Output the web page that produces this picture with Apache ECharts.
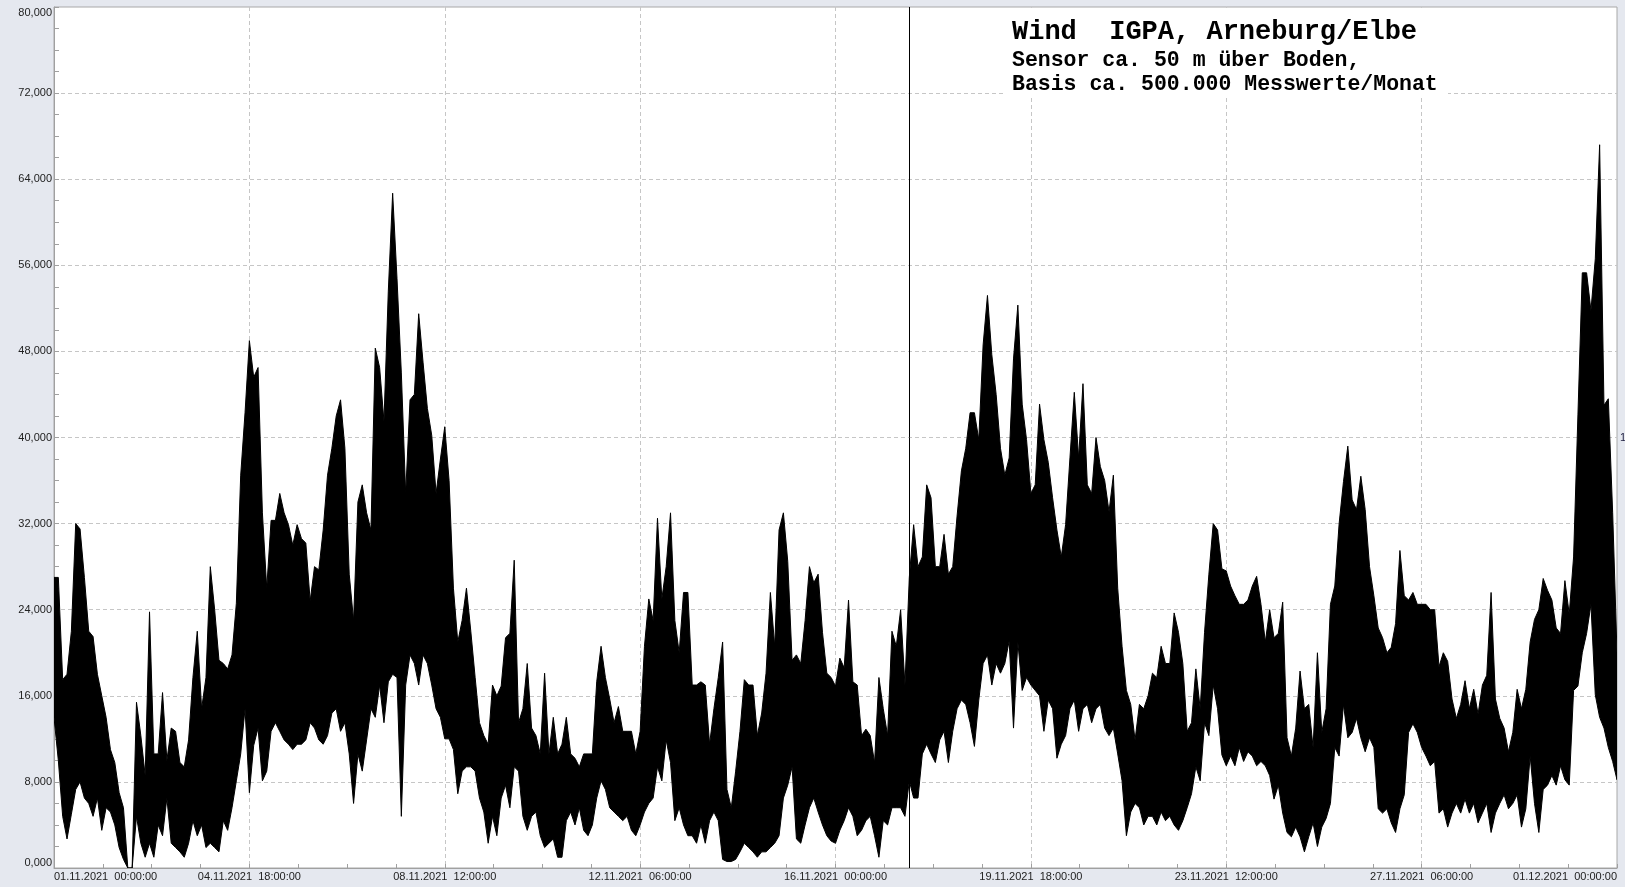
<!DOCTYPE html>
<html>
<head>
<meta charset="utf-8">
<script src="https://cdn.jsdelivr.net/npm/echarts@6/dist/echarts.min.js"></script>
<style>
  html, body { margin: 0; padding: 0; background: #e5e8ef; }
  #chart { width: 1625px; height: 887px; }
</style>
</head>
<body>
<div id="chart"></div>
<script>
// ---- data (hours since 01.11.2021 00:00, one sample every 2 hours) ----
const STEP_HOURS = 2;

// upper envelope of the measurements (value / 1000)
const hi = [
  27,27,17.5,18,22,32,31.5,27,22,21.5,
  18,16,14,11,9.8,7,5.6,0,0,15.4,
  12.3,8.6,23.8,10.6,10.6,16.3,10,13,12.7,9.8,
  9.4,11.9,17.7,22,14.8,17.7,28,24,19.3,19,
  18.5,19.8,24.6,36.5,42.3,49,45.6,46.5,33,26,
  32.3,32.3,34.8,33,31.9,30,31.9,30.6,30.2,24.8,
  28,27.7,31.4,36.5,39,42,43.5,39,27.3,23,
  34,35.6,33,31.4,48.3,46.5,41.5,53.6,62.7,54.8,
  46,34.8,43.5,44,51.5,47,42.7,40.2,34.8,38,
  41,36,26,21,23,26,22,17.7,13.5,12.3,
  11.5,17,16,16.9,21.4,21.8,28.6,13.5,14.8,19,
  13,12.3,10.6,18.1,10.6,14,10.6,11.5,14,10.6,
  10.2,9.4,10.6,10.6,10.6,17.3,20.6,17.7,15.7,13.5,
  15,12.7,12.7,12.7,10.6,12.7,20.6,25,23,32.5,
  25,28,33,23,20,25.6,25.6,17,17,17.3,
  17,11.5,14.8,17.7,21,7.3,5.6,9,12.7,17.5,
  17,17,12.3,14.4,18.1,25.6,20.6,31.4,33,28.5,
  19.3,19.8,19,23,28,26.5,27.3,21.9,18.1,17.7,
  16.9,19.5,18.6,24.9,17.3,17,12.3,12.9,12.3,9.8,
  17.7,14.8,12.3,22,20.6,24,17,27,31.9,28,
  28.9,35.6,34.4,28,28,31,27.3,28,32.7,36.9,
  39,42.3,42.3,39.8,48.6,53.2,47.7,44,39,36.5,
  38.1,47.3,52.3,43.1,39.8,34.8,35.6,43.1,39.8,37.7,
  34.4,31.4,28.9,31.9,38.1,44.2,38.1,45,35.6,34.8,
  40,37.3,36,33.1,36.5,26,20.6,16.5,15.2,11.9,
  15.2,14.8,16,18.1,17.7,20.6,19,19,23.7,21.9,
  19,12.7,13.5,18.5,14.8,21.9,27.3,32,31.4,27.8,
  27.6,26.2,25.3,24.5,24.5,24.9,26.2,27.1,24.5,21,
  24,21.4,21.8,24.7,12.1,10.4,13,18.3,14.8,15.2,
  11.2,20,12.6,14.8,24.5,26.2,32,35.9,39.2,34.2,
  33.3,36.4,33.3,28,25.3,22.3,21.4,20,20.5,22.7,
  29.5,25.3,24.9,25.6,24.5,24.5,24.5,24,24,18.7,
  20,19.2,15.7,13.9,15.2,17.4,14.8,16.6,14.3,17,
  17.9,25.6,15.7,13.9,13,10.8,12.6,16.6,14.8,16.6,
  21,23.1,24,26.9,25.8,24.9,22.3,21.8,26.7,23.6,
  28.9,42.1,55.3,55.3,51.8,56.6,67.2,43,43.6,33,20
];

// lower envelope of the measurements (value / 1000)
const lo = [
  14,10,4.8,2.7,5,7.3,8,6.5,6,4.8,
  6.5,3.5,5.6,5.2,4,1.9,0.8,0,0,4.8,
  2.3,1,2.3,1,4,3,6.5,2.3,1.9,1.5,
  1,2.3,4.4,3,4,1.9,2.3,1.9,1.5,4.4,
  3.5,5.6,8.1,10.6,14.8,7,11.4,13,8.1,9,
  12.7,13.5,12.7,11.9,11.5,11,11.5,11.5,11.9,13.5,
  13,11.9,11.5,12.3,14.4,14.8,12.7,13.5,10.6,6,
  10.6,9,11.9,14.8,14,17,13.5,17.3,18,17.7,
  4.8,17,19.8,19,17,19.8,19,17,14.8,14,
  12,12,11,6.9,9,9.4,9.4,9,6.5,5.2,
  2.3,4.8,3,6.5,7.7,5.6,9.4,9,4.8,3.5,
  4.8,5.2,3,1.9,2.3,2.7,1,1,4.4,5.2,
  4,5.6,3.5,3,4,6.5,8.1,7.3,5.6,5.2,
  4.8,4.4,4.8,3.5,3,4,5.2,6,6.5,9.4,
  8.1,11.9,9.8,4.4,5.6,4,3,3,2.3,4,
  2.3,4.4,5.2,4.4,0.8,0.6,0.6,0.8,1.5,2.3,
  1.9,1.5,1,1.5,1.5,1.9,2.3,3,6.5,7.7,
  9.4,2.7,2.3,4,5.6,6.5,5.2,4,3,2.5,
  2.3,3.5,4.4,5.6,4.8,3,3.5,4.4,4.8,3,
  1,4.4,4,5.6,5.6,5.6,4.8,8.1,6.5,6.5,
  10.6,11.5,10.6,9.8,11.9,12.7,9.8,12.7,14.8,15.6,
  15.2,13.5,11.3,15.6,19,19.8,17,19,18.1,19,
  21.1,13,21,16.5,17.7,17,16.5,16,12.7,15.6,
  14.8,10.2,11.5,12.3,14.8,15.6,12.7,14.8,15.2,13.5,
  14.8,15.2,13,12.3,13,10.6,8.1,3,5.2,6,
  5.6,4,4.8,4.8,4,5.2,4.4,4.8,4,3.5,
  4.4,5.6,6.9,9.4,8.1,13.5,12.3,17,14.8,10.5,
  9.5,10.4,9.5,11.2,9.9,10.8,10.4,9.5,9.9,9.5,
  8.6,6.4,7.7,5.1,3.3,2.9,3.8,2.9,1.5,2.9,
  4.2,2,3.8,4.6,6,11.2,10.4,15.2,12.1,12.6,
  13.9,12.1,10.8,12.1,11.2,5.5,5.1,5.5,4.2,3.3,
  5.5,6.8,12.6,13.4,12.6,11.2,10.4,9.5,9.9,5.1,
  5.5,3.8,5.1,6,5.1,6.4,5.1,6,4.2,5.1,
  6,3.3,5.1,6,6.8,5.5,6,6.8,3.8,5.5,
  10.4,6,3.3,7.3,7.7,8.6,7.7,9.5,8.2,7.7,
  16.5,16.9,20,21.8,24.5,16.1,14,13,11.2,9.9,8.2
];

// x tick labels (every 90 hours)
const xTickLabels = [
  '01.11.2021  00:00:00', '04.11.2021  18:00:00', '08.11.2021  12:00:00',
  '12.11.2021  06:00:00', '16.11.2021  00:00:00', '19.11.2021  18:00:00',
  '23.11.2021  12:00:00', '27.11.2021  06:00:00', '01.12.2021  00:00:00'
];
const X_TICK_HOURS = 90;
const X_MAX_HOURS = 720;
const Y_MAX = 80;
const Y_TICK = 8;

// cursor line (hours since start)
const cursorHour = 394;

// annotation text
const titleLines = [
  'Wind  IGPA, Arneburg/Elbe',
  'Sensor ca. 50 m über Boden,',
  'Basis ca. 500.000 Messwerte/Monat'
];

// ---- build ----
const seriesData = hi.map((v, i) => [i * STEP_HOURS, v, lo[i]]);

const chart = echarts.init(document.getElementById('chart'), null, { renderer: 'canvas' });
const labelFont = 'Arial, "Liberation Sans", sans-serif';
const monoFont = '"Courier New", "Liberation Mono", monospace';

function renderBand(params, api) {
  if (params.dataIndex !== 0) return null;
  const pts = [];
  for (let i = 0; i < seriesData.length; i++) {
    pts.push(api.coord([seriesData[i][0], seriesData[i][1]]));
  }
  for (let i = seriesData.length - 1; i >= 0; i--) {
    pts.push(api.coord([seriesData[i][0], seriesData[i][2]]));
  }
  return {
    type: 'polygon',
    shape: { points: pts },
    style: { fill: '#000', stroke: '#000', lineWidth: 1, lineJoin: 'miter' },
    silent: true
  };
}

const option = {
  backgroundColor: '#e5e8ef',
  animation: false,
  grid: {
    left: 54, right: 8, top: 7, bottom: 19,
    show: true, backgroundColor: '#ffffff',
    borderColor: '#a8a8a8', borderWidth: 1
  },
  xAxis: {
    type: 'value', min: 0, max: X_MAX_HOURS, interval: X_TICK_HOURS,
    axisLine: { show: true, lineStyle: { color: '#a0a0a0', width: 1 } },
    axisTick: { show: true, inside: true, length: 4, lineStyle: { color: '#a0a0a0' } },
    minorTick: { show: true, splitNumber: 4, length: 4, lineStyle: { color: '#a0a0a0' } },
    splitLine: { show: true, showMinLine: false, showMaxLine: false,
      lineStyle: { color: '#c6c6c6', width: 1, type: [4, 3] } },
    axisLabel: {
      fontFamily: labelFont, fontSize: 11, color: '#222', margin: 3,
      alignMinLabel: 'left', alignMaxLabel: 'right',
      formatter: v => xTickLabels[Math.round(v / X_TICK_HOURS)] || ''
    }
  },
  yAxis: {
    type: 'value', min: 0, max: Y_MAX, interval: Y_TICK,
    axisLine: { show: true, lineStyle: { color: '#a0a0a0', width: 1 } },
    axisTick: { show: true, inside: true, length: 5, lineStyle: { color: '#a0a0a0' } },
    minorTick: { show: true, splitNumber: 4, length: 5, lineStyle: { color: '#a0a0a0' } },
    splitLine: { show: true, showMinLine: false, showMaxLine: false,
      lineStyle: { color: '#c6c6c6', width: 1, type: [4, 3] } },
    axisLabel: {
      fontFamily: labelFont, fontSize: 11, color: '#222', margin: 2,
      verticalAlignMinLabel: 'bottom', verticalAlignMaxLabel: 'top',
      formatter: v => v.toFixed(3).replace('.', ',')
    }
  },
  series: [
    {
      name: 'Wind', type: 'custom', data: seriesData,
      encode: { x: 0, y: [1, 2] },
      clip: true, silent: true,
      renderItem: renderBand
    },
    {
      name: 'cursor', type: 'line', data: [], silent: true,
      markLine: {
        silent: true, symbol: 'none', label: { show: false },
        lineStyle: { color: '#000', width: 1, type: 'solid' },
        data: [{ xAxis: cursorHour }]
      }
    }
  ],
  graphic: [
    { type: 'rect', shape: { x: 1003, y: 8, width: 445, height: 88 },
      style: { fill: '#ffffff', lineWidth: 0 }, silent: true, z: 50 },
    { type: 'text', x: 1012, y: 32, z: 51, silent: true,
      style: { text: titleLines[0], fontFamily: monoFont, fontSize: 27, fontWeight: 'bold',
        fill: '#000', verticalAlign: 'middle', align: 'left' } },
    { type: 'text', x: 1012, y: 61, z: 51, silent: true,
      style: { text: titleLines[1], fontFamily: monoFont, fontSize: 21.5, fontWeight: 'bold',
        fill: '#000', verticalAlign: 'middle', align: 'left' } },
    { type: 'text', x: 1012, y: 84.5, z: 51, silent: true,
      style: { text: titleLines[2], fontFamily: monoFont, fontSize: 21.5, fontWeight: 'bold',
        fill: '#000', verticalAlign: 'middle', align: 'left' } },
    { type: 'text', x: 1620, y: 438, z: 51, silent: true,
      style: { text: '1', fontFamily: labelFont, fontSize: 11,
        fill: '#222244', verticalAlign: 'middle', align: 'left' } }
  ]
};
chart.setOption(option);
</script>
</body>
</html>
